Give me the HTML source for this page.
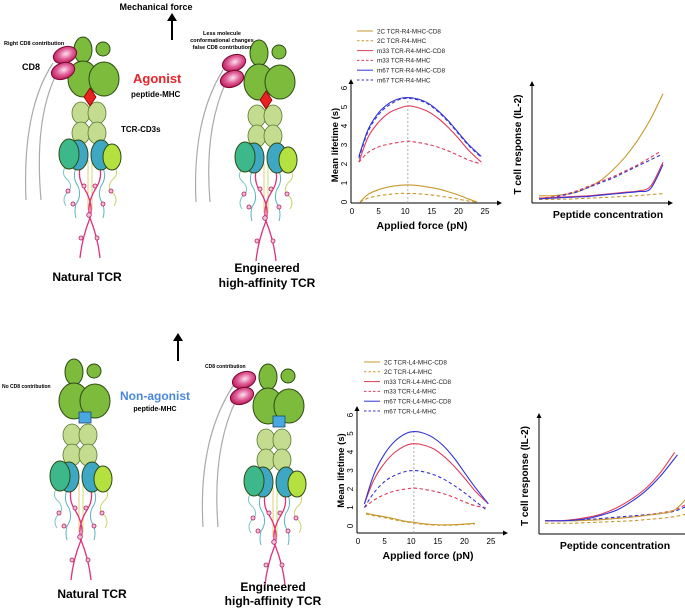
<!DOCTYPE html>
<html><head><meta charset="utf-8"><style>
html,body{margin:0;padding:0;background:#fff;}
svg{display:block;font-family:"Liberation Sans",Arial,sans-serif;}
.b{font-weight:bold;}
</style></head><body>
<svg id="fig" width="685" height="609" viewBox="0 0 685 609" xmlns="http://www.w3.org/2000/svg">
<defs>
<radialGradient id="pinkg" cx="0.55" cy="0.45" r="0.6"><stop offset="0" stop-color="#fbe3ee"/><stop offset="0.5" stop-color="#e0609a"/><stop offset="1" stop-color="#b8104f"/></radialGradient>
<g id="tcrbody">
  <g stroke="#2e4a12" stroke-width="1" fill="#7cbb3c">
    <ellipse cx="83" cy="50" rx="9" ry="13"/>
    <circle cx="103" cy="49" r="7"/>
    <ellipse cx="83" cy="79" rx="15" ry="18"/>
    <ellipse cx="104" cy="79" rx="15" ry="17"/>
  </g>
  <g stroke="#5a7a30" stroke-width="0.8" fill="#c4dc90">
    <ellipse cx="81" cy="113" rx="9" ry="11"/><ellipse cx="97" cy="113" rx="9" ry="11"/>
    <ellipse cx="81" cy="133" rx="9" ry="11"/><ellipse cx="97" cy="133" rx="9" ry="11"/>
  </g>
  <g fill="none" stroke-width="1">
    <path d="M66 166 q-6 8 2 14 q6 8 -2 14 q-4 6 0 12" stroke="#7cc8c8"/>
    <path d="M76 168 q-4 10 2 18 q4 10 -2 18 q-2 8 0 14" stroke="#5ab4c0"/>
    <path d="M103 168 q4 10 -2 18 q-4 10 2 18 q2 8 0 14" stroke="#5ab4c0"/>
    <path d="M114 166 q6 8 -2 14 q-6 8 2 14 q4 6 0 12" stroke="#c8d86a"/>
    <path d="M88 160 L88 210" stroke="#e8c878"/><path d="M92 160 L92 210" stroke="#c8e078"/>
    <path d="M82 162 q-6 14 2 26 q10 16 6 30 q-8 20 -10 40" stroke="#e0307e" stroke-width="1.3"/>
    <path d="M98 162 q6 14 -2 26 q-10 16 -6 30 q8 20 10 40" stroke="#e0307e" stroke-width="1.3"/>
  </g>
  <g fill="#f4c0d8" stroke="#b02060" stroke-width="0.8">
    <circle cx="68" cy="191" r="2"/><circle cx="73" cy="204" r="2"/><circle cx="84" cy="186" r="2"/><circle cx="95" cy="186" r="2"/>
    <circle cx="103" cy="204" r="2"/><circle cx="111" cy="191" r="2"/><circle cx="89" cy="215" r="2.3"/><circle cx="81" cy="238" r="2"/><circle cx="97" cy="238" r="2"/>
  </g>
  <g stroke="#2e4a12" stroke-width="1">
    <ellipse cx="78" cy="155" rx="10" ry="15" fill="#3ea8c4"/>
    <ellipse cx="69" cy="154" rx="10" ry="15" fill="#3cb88a"/>
    <ellipse cx="101" cy="155" rx="10" ry="15" fill="#3ea8c4"/>
    <ellipse cx="112" cy="157" rx="9" ry="13" fill="#b4e040"/>
  </g>
</g>
<g id="cd8pair" stroke="#7a0830" stroke-width="1" fill="url(#pinkg)">
  <ellipse cx="0" cy="0" rx="12" ry="8" transform="rotate(-20)"/>
  <ellipse cx="-2" cy="16" rx="12" ry="8" transform="rotate(-20 -2 16)"/>
</g>
<path id="diamond" d="M0 -9 L6 0 L0 9 L-6 0 Z" fill="#e8221e" stroke="#8a0000" stroke-width="0.8"/>
<rect id="square" x="-6" y="-6" width="12" height="11" fill="#4aa8e0" stroke="#1a4a70" stroke-width="0.8"/>
</defs>

<g>
  <path d="M53 63 Q22 110 26 200" fill="none" stroke="#aaa" stroke-width="1.2"/>
  <path d="M56 75 Q34 120 41 200" fill="none" stroke="#aaa" stroke-width="1.2"/>
  <use href="#tcrbody"/>
  <use href="#diamond" x="90" y="97"/>
  <use href="#cd8pair" x="65" y="55"/>
</g>
<g>
  <path d="M223 70 Q192 120 196 202" fill="none" stroke="#aaa" stroke-width="1.2"/>
  <path d="M226 82 Q204 130 210 202" fill="none" stroke="#aaa" stroke-width="1.2"/>
  <use href="#tcrbody" x="176" y="3"/>
  <use href="#diamond" x="266" y="100"/>
  <use href="#cd8pair" x="234" y="63"/>
</g>
<g>
  <use href="#tcrbody" x="-9" y="322"/>
  <use href="#square" x="85" y="418"/>
</g>
<g>
  <path d="M233 386 Q198 440 203 527" fill="none" stroke="#aaa" stroke-width="1.2"/>
  <path d="M236 400 Q212 450 218 527" fill="none" stroke="#aaa" stroke-width="1.2"/>
  <use href="#tcrbody" x="185" y="327"/>
  <use href="#square" x="279" y="422"/>
  <use href="#cd8pair" x="244" y="380"/>
</g>

<text x="156" y="10" class="b" font-size="9" text-anchor="middle">Mechanical force</text>
<g><line x1="172" y1="40" x2="172" y2="20" stroke="#000" stroke-width="2"/><path d="M167 21 L172 13 L177 21 Z"/></g>
<g><line x1="178" y1="361" x2="178" y2="340" stroke="#000" stroke-width="2"/><path d="M173 341 L178 333 L183 341 Z"/></g>
<text x="4" y="45" class="b" font-size="5.5">Right CD8 contribution</text>
<text x="22" y="70" class="b" font-size="9">CD8</text>
<text x="133" y="83" class="b" font-size="13" fill="#e8242a">Agonist</text>
<text x="131" y="97" class="b" font-size="8">peptide-MHC</text>
<text x="121" y="132" class="b" font-size="8">TCR-CD3s</text>
<text x="87" y="281" class="b" font-size="12" text-anchor="middle">Natural TCR</text>
<g font-size="5.5" class="b" text-anchor="middle">
  <text x="222" y="35">Less molecule</text><text x="222" y="42">conformational changes</text><text x="222" y="49">false CD8 contribution</text>
</g>
<text x="267" y="272" class="b" font-size="12" text-anchor="middle">Engineered</text>
<text x="267" y="287" class="b" font-size="12" text-anchor="middle">high-affinity TCR</text>
<text x="2" y="388" class="b" font-size="5">No CD8 contribution</text>
<text x="155" y="400" class="b" font-size="12" text-anchor="middle" fill="#4a88e0">Non-agonist</text>
<text x="155" y="411" class="b" font-size="7" text-anchor="middle">peptide-MHC</text>
<text x="205" y="368" class="b" font-size="5">CD8 contribution</text>
<text x="92" y="598" class="b" font-size="12" text-anchor="middle">Natural TCR</text>
<text x="273" y="591" class="b" font-size="12" text-anchor="middle">Engineered</text>
<text x="273" y="605" class="b" font-size="12" text-anchor="middle">high-affinity TCR</text>

<g id="charts"></g>
</svg>
<script>
const forceTop = [1.3,3,5,7,9,10.5,12,14,16,18,20,22,24.3];
const topM67CD8 = [2.4,3.8,4.7,5.2,5.45,5.5,5.45,5.25,4.85,4.3,3.65,3.0,2.4];
const topM67 = [2.3,3.7,4.6,5.1,5.4,5.45,5.4,5.2,4.8,4.25,3.6,2.95,2.35];
const topM33CD8 = [2.1,3.4,4.2,4.7,4.95,5.05,5.0,4.8,4.45,3.95,3.35,2.7,2.1];
const topM33 = [2.1,2.6,2.9,3.05,3.15,3.2,3.15,3.05,2.9,2.7,2.45,2.2,2.0];
const force2C = [1.5,3,5,7,9,10.5,12,14,16,18,20,22,23.5];
const top2CCD8 = [0,0.4,0.65,0.8,0.88,0.9,0.88,0.8,0.7,0.55,0.37,0.15,0];
const top2C = [0,0.2,0.33,0.4,0.45,0.45,0.44,0.4,0.33,0.25,0.15,0.05,0];
const forceBot = [1.2,3,5,7,9,10.5,12,14,16,18,20,22,24.5];
const botM67CD8 = [1.2,2.8,3.9,4.6,5.0,5.1,5.05,4.8,4.35,3.7,2.9,2.1,1.2];
const botM33CD8 = [1.2,2.5,3.4,4.0,4.35,4.45,4.4,4.2,3.8,3.25,2.6,1.9,1.2];
const forceBotD = [1.2,3,5,7,9,10.5,12,14,16,18,20,22,24];
const botM67 = [1.0,1.8,2.4,2.75,2.95,3.0,2.95,2.8,2.55,2.2,1.8,1.35,0.9];
const botM33 = [1.0,1.4,1.7,1.9,2.0,2.05,2.0,1.9,1.75,1.55,1.3,1.1,1.0];
const force2Cb = [1.5,3,5,7,9,10.5,12,14,16,18,20,22];
const bot2CCD8 = [0.7,0.6,0.5,0.38,0.25,0.2,0.13,0.08,0.06,0.07,0.1,0.15];
const bot2C = [0.65,0.55,0.45,0.33,0.22,0.17,0.1,0.06,0.04,0.05,0.08,0.12];
const xTicks = [0,5,10,15,20,25];
const yTicks = [0,1,2,3,4,5,6];
const conc = [0,1,2,3,4,5,6,7,8,9,10];
const rTop2CCD8 = [0.6,0.6,0.7,0.9,1.3,1.9,2.8,3.9,5.3,7.0,9.1];
const rTop2C = [0.3,0.3,0.32,0.35,0.4,0.45,0.5,0.55,0.62,0.7,0.78];
const rTopM33CD8 = [0.4,0.45,0.5,0.55,0.6,0.7,0.8,0.9,1.0,1.4,3.4];
const rTopM67CD8 = [0.35,0.4,0.45,0.5,0.55,0.65,0.75,0.85,0.95,1.2,3.2];
const concD = [0,1,2,3,4,5,6,7,8,9,9.8];
const rTopM33 = [0.4,0.5,0.7,1.0,1.4,1.8,2.2,2.7,3.2,3.8,4.3];
const rTopM67 = [0.35,0.45,0.65,0.9,1.3,1.7,2.1,2.6,3.1,3.6,4.0];
const concB = [0,1,2,3,4,5,6,7,8,9];
const concB2 = [0,1,2,3,4,5,6,7,8,9.2];
const rBotM33CD8 = [1.1,1.1,1.2,1.4,1.7,2.2,2.9,3.8,5.1,6.8];
const rBotM67CD8 = [1.1,1.1,1.15,1.3,1.6,2.0,2.7,3.6,4.8,6.6];
const rBot2CCD8 = [1.1,1.1,1.1,1.15,1.2,1.3,1.4,1.55,1.7,2.0,3.2];
const rBot2C = [0.9,0.9,0.9,0.95,1.0,1.05,1.1,1.2,1.3,1.45,1.7];
const rBotM33 = [1.1,1.1,1.15,1.2,1.3,1.4,1.5,1.6,1.75,2.0,2.6];
const rBotM67 = [1.1,1.1,1.15,1.2,1.3,1.4,1.5,1.6,1.7,1.9,2.4];

const NS='http://www.w3.org/2000/svg';
const root=document.getElementById('charts');
function mk(tag,attrs,parent){const e=document.createElementNS(NS,tag);for(const k in attrs)e.setAttribute(k,attrs[k]);(parent||root).appendChild(e);return e;}
function smooth(pts){let d='M'+pts[0][0].toFixed(1)+' '+pts[0][1].toFixed(1);for(let i=0;i<pts.length-1;i++){const p0=pts[Math.max(0,i-1)],p1=pts[i],p2=pts[i+1],p3=pts[Math.min(pts.length-1,i+2)];d+=' C'+(p1[0]+(p2[0]-p0[0])/6).toFixed(1)+' '+(p1[1]+(p2[1]-p0[1])/6).toFixed(1)+' '+(p2[0]-(p3[0]-p1[0])/6).toFixed(1)+' '+(p2[1]-(p3[1]-p1[1])/6).toFixed(1)+' '+p2[0].toFixed(1)+' '+p2[1].toFixed(1);}return d;}
const GOLD='#c8982e',RED='#e03c5a',BLUE='#3434d4';
function arrowAxes(g,x0,y0,xEnd,yTop){
  const ax=mk('line',{x1:x0,y1:y0,x2:xEnd,y2:y0,stroke:'#000','stroke-width':1},g);
  
  mk('path',{d:`M${xEnd} ${y0-2.5} L${xEnd+5} ${y0} L${xEnd} ${y0+2.5} Z`},g);
  const ay=mk('line',{x1:x0,y1:y0,x2:x0,y2:yTop,stroke:'#000','stroke-width':1},g);
  
  mk('path',{d:`M${x0-2.5} ${yTop} L${x0} ${yTop-5} L${x0+2.5} ${yTop} Z`},g);
}
function series(g,xs,ys,sx,sy,color,dash,name){
  const p=mk('path',{d:smooth(xs.map((x,i)=>[sx(x),sy(ys[i])])),fill:'none',stroke:color,'stroke-width':1.1},g);
  if(dash)p.setAttribute('stroke-dasharray','3.5 2.5');
  
}
function legend(g,x,y,entries){
  entries.forEach((e,i)=>{const yy=y+i*9.8;
    const l=mk('line',{x1:x,y1:yy,x2:x+16,y2:yy,stroke:e[1],'stroke-width':1},g);
    if(e[2])l.setAttribute('stroke-dasharray','2.5 2');
    
    const t=mk('text',{x:x+20,y:yy+2.3,'font-size':6.3,fill:'#222'},g);t.textContent=e[0];
    });
}
function lifetimeChart(o){
  const g=mk('g',{});
  const sx=v=>o.x0+v*o.kx, sy=v=>o.y0-v*o.ky;
  arrowAxes(g,o.x0-1,o.axisY,o.x0+25*o.kx+12,o.y0-6*o.ky-4);
  xTicks.forEach(t=>{const e=mk('text',{x:sx(t),y:o.axisY+11,'font-size':8,'text-anchor':'middle'},g);e.textContent=t;
    });
  yTicks.forEach(t=>{const e=mk('text',{x:o.x0-5,y:sy(t),'font-size':8,'text-anchor':'middle',transform:`rotate(-90 ${o.x0-5} ${sy(t)})`},g);e.textContent=t;
    });
  const v=mk('line',{x1:sx(10.5),y1:o.axisY,x2:sx(10.5),y2:sy(o.peak),stroke:'#999','stroke-width':0.8,'stroke-dasharray':'2 2'},g);
  
  o.series.forEach(s=>series(g,s[0],s[1],sx,sy,s[2],s[3],s[4]));
  const xt=mk('text',{x:o.x0+70,y:o.axisY+26,'font-size':10.5,'font-weight':'bold','text-anchor':'middle'},g);xt.textContent='Applied force (pN)';
  
  const yx=o.x0-14,yy=o.y0-3*o.ky;
  const yt=mk('text',{x:yx,y:yy,'font-size':9.5,'font-weight':'bold','text-anchor':'middle',transform:`rotate(-90 ${yx} ${yy})`},g);yt.textContent='Mean lifetime (s)';
  
  legend(g,o.lx,o.ly,o.legend);
}
function responseChart(o){
  const g=mk('g',{});
  const sx=v=>o.x0+v*o.kx, sy=v=>o.y0-v*o.ky;
  arrowAxes(g,o.ax,o.y0,o.xEnd,o.yTop);
  o.series.forEach(s=>series(g,s[0],s[1],sx,sy,s[2],s[3],s[4]));
  const xt=mk('text',{x:o.tx,y:o.y0+15,'font-size':10.5,'font-weight':'bold','text-anchor':'middle'},g);xt.textContent='Peptide concentration';
  
  const yx=o.ax-11,yy=(o.y0+o.yTop)/2;
  const yt=mk('text',{x:yx,y:yy,'font-size':10,'font-weight':'bold','text-anchor':'middle',transform:`rotate(-90 ${yx} ${yy})`},g);yt.textContent='T cell response (IL-2)';
  
}
lifetimeChart({name:'lifetime-chart-r4',x0:352,kx:5.32,y0:202,ky:19,axisY:203,peak:5.5,lx:357,ly:31,
  legend:[['2C TCR-R4-MHC-CD8',GOLD,0],['2C TCR-R4-MHC',GOLD,1],['m33 TCR-R4-MHC-CD8',RED,0],['m33 TCR-R4-MHC',RED,1],['m67 TCR-R4-MHC-CD8',BLUE,0],['m67 TCR-R4-MHC',BLUE,1]],
  series:[[force2C,top2CCD8,GOLD,0,'line-2c-cd8'],[force2C,top2C,GOLD,1,'line-2c'],[forceTop,topM33CD8,RED,0,'line-m33-cd8'],[forceTop,topM33,RED,1,'line-m33'],[forceTop,topM67CD8,BLUE,0,'line-m67-cd8'],[forceTop,topM67,BLUE,1,'line-m67']]});
lifetimeChart({name:'lifetime-chart-l4',x0:358,kx:5.32,y0:526,ky:18.5,axisY:533,peak:5.1,lx:364,ly:362,
  legend:[['2C TCR-L4-MHC-CD8',GOLD,0],['2C TCR-L4-MHC',GOLD,1],['m33 TCR-L4-MHC-CD8',RED,0],['m33 TCR-L4-MHC',RED,1],['m67 TCR-L4-MHC-CD8',BLUE,0],['m67 TCR-L4-MHC',BLUE,1]],
  series:[[force2Cb,bot2CCD8,GOLD,0,'line-2c-cd8'],[force2Cb,bot2C,GOLD,1,'line-2c'],[forceBot,botM33CD8,RED,0,'line-m33-cd8'],[forceBotD,botM33,RED,1,'line-m33'],[forceBot,botM67CD8,BLUE,0,'line-m67-cd8'],[forceBotD,botM67,BLUE,1,'line-m67']]});
responseChart({name:'response-chart-r4',ax:532,x0:539,kx:12.4,y0:203,ky:12,xEnd:668,yTop:86,tx:608,
  series:[[conc,rTop2CCD8,GOLD,0,'response-2c-cd8'],[conc,rTop2C,GOLD,1,'response-2c'],[concD,rTopM33,RED,1,'response-m33'],[concD,rTopM67,BLUE,1,'response-m67'],[conc,rTopM33CD8,RED,0,'response-m33-cd8'],[conc,rTopM67CD8,BLUE,0,'response-m67-cd8']]});
responseChart({name:'response-chart-l4',ax:539,x0:545,kx:14.4,y0:534,ky:12,xEnd:690,yTop:418,tx:615,
  series:[[conc,rBot2C,GOLD,1,'response-2c'],[conc,rBotM33,RED,1,'response-m33'],[conc,rBotM67,BLUE,1,'response-m67'],[conc,rBot2CCD8,GOLD,0,'response-2c-cd8'],[concB,rBotM33CD8,RED,0,'response-m33-cd8'],[concB2,rBotM67CD8,BLUE,0,'response-m67-cd8']]});
</script>
</body></html>
